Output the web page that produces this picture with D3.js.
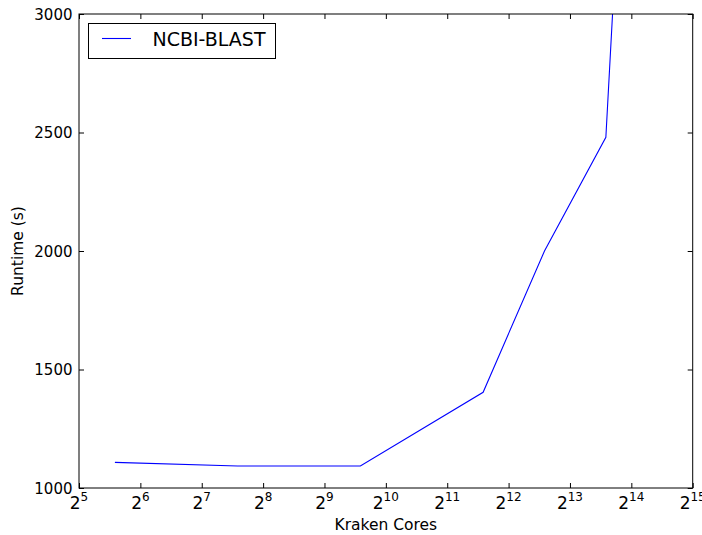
<!DOCTYPE html>
<html>
<script src='https://d3js.org/d3.v7.min.js'></script>
<style>
body { margin: 0; background: #fff; }
</style>
<body>
<svg width="702" height="535"></svg>

<script>

// values
var cores = [48, 192, 768, 3072, 6144, 12288, 24576];
var runtime = [1108, 1093, 1093, 1404, 2000, 2480, 7250];
var xExponents = [5, 6, 7, 8, 9, 10, 11, 12, 13, 14, 15];
var yTicks = [1000, 1500, 2000, 2500, 3000];
var seriesName = "NCBI-BLAST";

var dataset = cores.map(function (c, i) { return [c, runtime[i]]; });

var svg = d3.select("svg"),
    plotLeft = 79, plotRight = 692.7, plotTop = 14, plotBottom = 488;

var font = "'DejaVu Sans', sans-serif";

var xScale = d3.scaleLog().base(2).domain([32, 32768]).range([plotLeft, plotRight]);
var yScale = d3.scaleLinear().domain([1000, 3000]).range([plotBottom, plotTop]);

var xTickVals = xExponents.map(function (e) { return Math.pow(2, e); });

// clip for the line
svg.append("clipPath").attr("id", "plotclip")
    .append("rect")
    .attr("x", plotLeft).attr("y", plotTop)
    .attr("width", plotRight - plotLeft).attr("height", plotBottom - plotTop);

// line
var line = d3.line()
    .x(function (d) { return xScale(d[0]); })
    .y(function (d) { return yScale(d[1]); });

svg.append("path")
    .datum(dataset)
    .attr("clip-path", "url(#plotclip)")
    .attr("d", line)
    .style("fill", "none")
    .style("stroke", "#0000ff")
    .style("stroke-width", 1.1);

// axes - ticks pointing inward on all four sides
function styleAxis(g) {
    g.select(".domain").remove();
    g.selectAll(".tick line").attr("stroke", "#000").attr("stroke-width", 1);
}

svg.append("g")
    .attr("transform", "translate(0," + plotBottom + ")")
    .call(d3.axisTop(xScale).tickValues(xTickVals).tickSize(5).tickFormat(""))
    .call(styleAxis);

svg.append("g")
    .attr("transform", "translate(0," + plotTop + ")")
    .call(d3.axisBottom(xScale).tickValues(xTickVals).tickSize(5).tickFormat(""))
    .call(styleAxis);

svg.append("g")
    .attr("transform", "translate(" + plotLeft + ",0)")
    .call(d3.axisRight(yScale).tickValues(yTicks).tickSize(5).tickFormat(""))
    .call(styleAxis);

svg.append("g")
    .attr("transform", "translate(" + plotRight + ",0)")
    .call(d3.axisLeft(yScale).tickValues(yTicks).tickSize(5).tickFormat(""))
    .call(styleAxis);

// frame
svg.append("rect")
    .attr("x", plotLeft).attr("y", plotTop)
    .attr("width", plotRight - plotLeft).attr("height", plotBottom - plotTop)
    .style("fill", "none")
    .style("stroke", "#000")
    .style("stroke-width", 1);

// x tick labels 2^n
var xl = svg.append("g").selectAll("text")
    .data(xExponents)
    .enter()
    .append("text")
    .attr("x", function (d) { return xScale(Math.pow(2, d)); })
    .attr("y", 508.5)
    .attr("text-anchor", "middle")
    .style("font-family", font)
    .style("font-size", "17px")
    .style("fill", "#000");

xl.append("tspan").text("2");
xl.append("tspan")
    .attr("dy", -8)
    .style("font-size", "12px")
    .text(function (d) { return d; });

// y tick labels
svg.append("g").selectAll("text")
    .data(yTicks)
    .enter()
    .append("text")
    .attr("x", 72.5)
    .attr("y", function (d) { return yScale(d) + 5.5; })
    .attr("text-anchor", "end")
    .style("font-family", font)
    .style("font-size", "15px")
    .style("fill", "#000")
    .text(function (d) { return d; });

// axis labels
svg.append("text")
    .attr("x", (plotLeft + plotRight) / 2)
    .attr("y", 530)
    .attr("text-anchor", "middle")
    .style("font-family", font)
    .style("font-size", "15.5px")
    .text("Kraken Cores");

svg.append("text")
    .attr("text-anchor", "middle")
    .attr("transform", "translate(23," + (plotTop + plotBottom) / 2 + ")rotate(-90)")
    .style("font-family", font)
    .style("font-size", "15.5px")
    .text("Runtime (s)");

// legend
var legend = svg.append("g");

legend.append("rect")
    .attr("x", 88.5).attr("y", 23.5)
    .attr("width", 187).attr("height", 35)
    .style("fill", "#fff")
    .style("stroke", "#000")
    .style("stroke-width", 1);

legend.append("line")
    .attr("x1", 102).attr("x2", 131)
    .attr("y1", 38.5).attr("y2", 38.5)
    .style("stroke", "#0000ff")
    .style("stroke-width", 1.1);

legend.append("text")
    .attr("x", 152.5)
    .attr("y", 45.5)
    .style("font-family", font)
    .style("font-size", "19px")
    .text(seriesName);

</script>
</body>
</html>
